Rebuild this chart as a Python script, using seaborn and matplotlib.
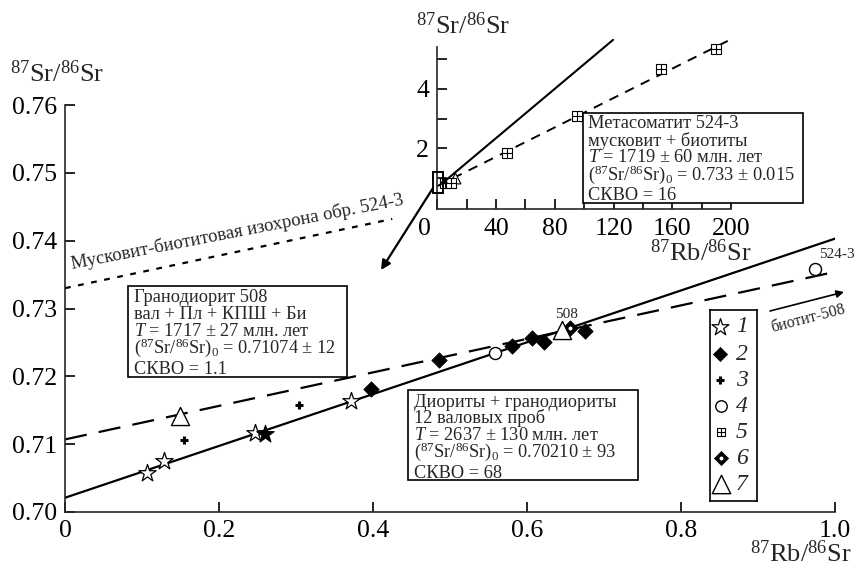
import matplotlib
matplotlib.use("Agg")
import matplotlib.pyplot as plt
import matplotlib.transforms as mtrans
from matplotlib.path import Path
from matplotlib.patches import Rectangle
import seaborn as sns

# ------------------------------------------------------------------ data
# main diagram: 87Rb/86Sr (x) vs 87Sr/86Sr (y)
star_x = [0.107, 0.129, 0.247, 0.372]
star_y = [0.7058, 0.7075, 0.7116, 0.7163]
star_filled_x = [0.260]
star_filled_y = [0.7115]
diamond_x = [0.397, 0.486, 0.581, 0.607, 0.6225, 0.675]
diamond_y = [0.7181, 0.7224, 0.7244, 0.7257, 0.7251, 0.7267]
plus_x = [0.154, 0.304]
plus_y = [0.7106, 0.7158]
circle_x = [0.559, 0.974]
circle_y = [0.7234, 0.7358]
dotdiamond_x = [0.656]
dotdiamond_y = [0.7271]
triangle_x = [0.149, 0.645]
triangle_y = [0.7142, 0.7268]

# isochrons (end points)
iso_dior_x = [0.0, 1.0]
iso_dior_y = [0.7021, 0.7403]
iso_508_x = [0.0, 1.0]
iso_508_y = [0.7107, 0.7354]
iso_524_x = [0.0, 0.425]
iso_524_y = [0.7330, 0.7432]

x_ticks = [0, 0.2, 0.4, 0.6, 0.8, 1.0]
x_tick_labels = ["0", "0.2", "0.4", "0.6", "0.8", "1.0"]
y_ticks = [0.70, 0.71, 0.72, 0.73, 0.74, 0.75, 0.76]
y_tick_labels = ["0.70", "0.71", "0.72", "0.73", "0.74", "0.75", "0.76"]

# inset (mica isochron of 524-3)
inset_sq_x = [5.3, 9.2, 47.3, 95.0, 152.2, 189.9]
inset_sq_y = [0.85, 0.85, 1.86, 3.10, 4.66, 5.34]
inset_tri_x = [12.1]
inset_tri_y = [1.0]
inset_iso_x = [0.0, 200.0]
inset_iso_y = [0.73, 5.67]
inset_x_ticks = [0, 20, 40, 60, 80, 100, 120, 140, 160, 180, 200]
inset_x_tick_labels = ["0", "", "40", "", "80", "", "120", "", "160", "", "200"]
inset_y_ticks = [1, 2, 3, 4, 5]
inset_y_tick_labels = ["", "2", "", "4", ""]

legend_labels = ["1", "2", "3", "4", "5", "6", "7"]

# ------------------------------------------------------------------ style
sns.set_style("ticks")
plt.rcParams["font.family"] = ["Liberation Serif", "DejaVu Serif"]
plt.rcParams["mathtext.fontset"] = "custom"
plt.rcParams["mathtext.rm"] = "Liberation Serif"
plt.rcParams["mathtext.it"] = "Liberation Serif:italic"
plt.rcParams["mathtext.bf"] = "Liberation Serif:bold"

W, H = 859, 566
fig = plt.figure(figsize=(W / 100, H / 100), dpi=100)


def fp(x, y):
    """pixel position (from top-left) -> figure fraction"""
    return x / W, 1 - y / H


def axes_rect(x0, y0, x1, y1):
    return [x0 / W, 1 - y1 / H, (x1 - x0) / W, (y1 - y0) / H]


# custom marker: square with a cross
sqplus = Path([(-1, -1), (1, -1), (1, 1), (-1, 1), (-1, -1),
               (-1, 0), (1, 0), (0, -1), (0, 1)],
              [Path.MOVETO, Path.LINETO, Path.LINETO, Path.LINETO, Path.CLOSEPOLY,
               Path.MOVETO, Path.LINETO, Path.MOVETO, Path.LINETO])

# ------------------------------------------------------------------ main axes
ax = fig.add_axes(axes_rect(65, 105, 835, 512))
ax.set_xlim(0, 1.0)
ax.set_ylim(0.70, 0.76)
for s in ["top", "right"]:
    ax.spines[s].set_visible(False)
for s in ["left", "bottom"]:
    ax.spines[s].set_linewidth(1.2)
ax.set_xticks(x_ticks)
ax.set_xticklabels(x_tick_labels)
ax.set_yticks(y_ticks)
ax.set_yticklabels(y_tick_labels)
ax.tick_params(direction="in", length=7, width=1.2, labelsize=18.5, pad=6, colors="black")

sns.lineplot(x=iso_dior_x, y=iso_dior_y, ax=ax, color="black", lw=1.6, zorder=2)
sns.lineplot(x=iso_508_x, y=iso_508_y, ax=ax, color="black", lw=1.6,
             linestyle=(0, (10, 5.5)), zorder=2)
sns.lineplot(x=iso_524_x, y=iso_524_y, ax=ax, color="black", lw=1.6,
             linestyle=(0, (2.6, 3.4)), zorder=2)

mk = dict(ax=ax, zorder=4, legend=False)
sns.scatterplot(x=star_x, y=star_y, marker="*", s=170, facecolor="white",
                edgecolor="black", linewidth=0.9, **mk)
sns.scatterplot(x=star_filled_x, y=star_filled_y, marker="*", s=170, facecolor="black",
                edgecolor="black", linewidth=0.9, **mk)
sns.scatterplot(x=diamond_x, y=diamond_y, marker="D", s=62, facecolor="black",
                edgecolor="black", linewidth=0.5, **mk)
sns.scatterplot(x=plus_x, y=plus_y, marker="+", s=30, color="black", linewidth=2.2, **mk)
sns.scatterplot(x=circle_x, y=circle_y, marker="o", s=75, facecolor="white",
                edgecolor="black", linewidth=1.0, **mk)
sns.scatterplot(x=dotdiamond_x, y=dotdiamond_y, marker="D", s=62, facecolor="black",
                edgecolor="black", linewidth=0.5, **mk)
sns.scatterplot(x=dotdiamond_x, y=dotdiamond_y, marker="o", s=8, facecolor="white",
                edgecolor="white", linewidth=0, ax=ax, zorder=5, legend=False)
sns.scatterplot(x=triangle_x, y=triangle_y, marker="^", s=170, facecolor="white",
                edgecolor="black", linewidth=1.0, **mk)

# axis labels of main plot
fig.text(*fp(57, 82), r"$^{87}$Sr/$^{86}$Sr", fontsize=19, ha="center", va="baseline")
fig.text(*fp(801, 562), r"$^{87}$Rb/$^{86}$Sr", fontsize=19, ha="center", va="baseline")

# labels near points
fig.text(*fp(567, 318), "508", fontsize=11, ha="center", va="baseline")
fig.text(*fp(837, 258), "524-3", fontsize=11, ha="center", va="baseline")
fig.text(*fp(772, 332), "биотит-508", fontsize=11.5, ha="left", va="baseline",
         rotation=14.5, rotation_mode="anchor")
fig.text(*fp(72, 269), "Мусковит-биотитовая изохрона обр. 524-3", fontsize=13.5,
         ha="left", va="baseline", rotation=11, rotation_mode="anchor")

# arrows
fig.add_artist(matplotlib.patches.FancyArrowPatch(
    fp(770, 311), fp(844, 292), transform=fig.transFigure, arrowstyle="-|>",
    mutation_scale=11, lw=1.2, color="black", shrinkA=0, shrinkB=0))
fig.add_artist(matplotlib.patches.FancyArrowPatch(
    fp(433, 188), fp(381, 270), transform=fig.transFigure, arrowstyle="-|>",
    mutation_scale=14, lw=1.6, color="black", shrinkA=0, shrinkB=0))


def text_box(x0, y0, x1, y1, tx, baselines, lines, fs=13.2):
    fig.add_artist(Rectangle(fp(x0, y1), (x1 - x0) / W, (y1 - y0) / H,
                             transform=fig.transFigure, facecolor="white",
                             edgecolor="black", lw=1.2, zorder=5))
    for yb, t in zip(baselines, lines):
        fig.text(*fp(tx, yb), t, fontsize=fs, ha="left", va="baseline", zorder=6)


text_box(128, 286, 347, 377, 134, [302.5, 319.3, 335.8, 353, 374],
         ["Гранодиорит 508",
          "вал + Пл + КПШ + Би",
          r"$T$ = 1717 ± 27 млн. лет",
          r"($^{87}$Sr/$^{86}$Sr)$_0$ = 0.71074 ± 12",
          "СКВО = 1.1"])
text_box(408, 390, 638, 480, 414, [406.7, 423.3, 439.8, 457, 477.5],
         ["Диориты + гранодиориты",
          "12 валовых проб",
          r"$T$ = 2637 ± 130 млн. лет",
          r"($^{87}$Sr/$^{86}$Sr)$_0$ = 0.70210 ± 93",
          "СКВО = 68"])

# ------------------------------------------------------------------ inset
axi = fig.add_axes(axes_rect(437.3, 47, 731, 209.3))
axi.set_facecolor("none")
axi.set_xlim(0, 200)
axi.set_ylim(-0.05, 5.41)
for s in ["top", "right"]:
    axi.spines[s].set_visible(False)
for s in ["left", "bottom"]:
    axi.spines[s].set_linewidth(1.2)
axi.set_xticks(inset_x_ticks)
axi.set_xticklabels(inset_x_tick_labels)
axi.set_yticks(inset_y_ticks)
axi.set_yticklabels(inset_y_tick_labels)
axi.tick_params(direction="in", length=7, width=1.2, labelsize=18.5, pad=6, colors="black")
lbl0 = axi.get_xticklabels()[0]
lbl0.set_transform(lbl0.get_transform() +
                   mtrans.ScaledTranslation(-0.13, 0, fig.dpi_scale_trans))

sns.lineplot(x=inset_iso_x, y=inset_iso_y, ax=axi, color="black", lw=1.4,
             linestyle=(0, (5, 4)), zorder=2, clip_on=False)
sns.scatterplot(x=inset_sq_x, y=inset_sq_y, marker=sqplus, s=50, facecolor="white",
                edgecolor="black", linewidth=0.8, ax=axi, zorder=4, legend=False,
                clip_on=False)
sns.scatterplot(x=inset_tri_x, y=inset_tri_y, marker="^", s=60, facecolor="white",
                edgecolor="black", linewidth=0.8, ax=axi, zorder=3, legend=False,
                clip_on=False)
axi.add_patch(Rectangle((-2.7, 0.485), 6.4, 0.725, facecolor="none", edgecolor="black",
                        lw=1.4, clip_on=False, zorder=5))
axi.annotate("", xy=(1.8, 0.76), xytext=(119.7, 5.65),
             arrowprops=dict(arrowstyle="-|>", mutation_scale=8, lw=1.5, color="black",
                             shrinkA=0, shrinkB=0), annotation_clip=False, zorder=5)

fig.text(*fp(463, 34), r"$^{87}$Sr/$^{86}$Sr", fontsize=19, ha="center", va="baseline")
fig.text(*fp(701, 261), r"$^{87}$Rb/$^{86}$Sr", fontsize=19, ha="center", va="baseline")

text_box(583, 113, 803, 203, 588, [128.3, 145.7, 162.1, 180, 199.5],
         ["Метасоматит 524-3",
          "мусковит + биотиты",
          r"$T$ = 1719 ± 60 млн. лет",
          r"($^{87}$Sr/$^{86}$Sr)$_0$ = 0.733 ± 0.015",
          "СКВО = 16"])

# ------------------------------------------------------------------ legend
axl = fig.add_axes(axes_rect(710, 310, 757, 501))
axl.set_xlim(0, 47)
axl.set_ylim(191, 0)
axl.set_xticks([])
axl.set_yticks([])
for s in axl.spines.values():
    s.set_visible(True)
    s.set_linewidth(1.2)
    s.set_color("black")
ly = [17, 44, 70, 96, 122, 148, 174]
lx = 10
sns.scatterplot(x=[lx], y=[ly[0]], marker="*", s=165, facecolor="white",
                edgecolor="black", linewidth=0.9, ax=axl, legend=False)
sns.scatterplot(x=[lx], y=[ly[1]], marker="D", s=52, facecolor="black",
                edgecolor="black", linewidth=0.5, ax=axl, legend=False)
sns.scatterplot(x=[lx], y=[ly[2]], marker="+", s=30, color="black", linewidth=2.2,
                ax=axl, legend=False)
sns.scatterplot(x=[lx + 1], y=[ly[3]], marker="o", s=68, facecolor="white",
                edgecolor="black", linewidth=1.0, ax=axl, legend=False)
sns.scatterplot(x=[lx + 1], y=[ly[4]], marker=sqplus, s=36, facecolor="white",
                edgecolor="black", linewidth=0.8, ax=axl, legend=False)
sns.scatterplot(x=[lx + 1], y=[ly[5]], marker="D", s=52, facecolor="black",
                edgecolor="black", linewidth=0.5, ax=axl, legend=False)
sns.scatterplot(x=[lx + 1], y=[ly[5]], marker="o", s=8, facecolor="white",
                edgecolor="white", linewidth=0, ax=axl, legend=False, zorder=5)
sns.scatterplot(x=[lx + 1], y=[ly[6]], marker="^", s=175, facecolor="white",
                edgecolor="black", linewidth=1.0, ax=axl, legend=False)
for yy, lab in zip(ly, legend_labels):
    axl.text(32, yy, lab, fontsize=17, fontstyle="italic", ha="center", va="center")

fig.savefig("out.png", dpi=100)
